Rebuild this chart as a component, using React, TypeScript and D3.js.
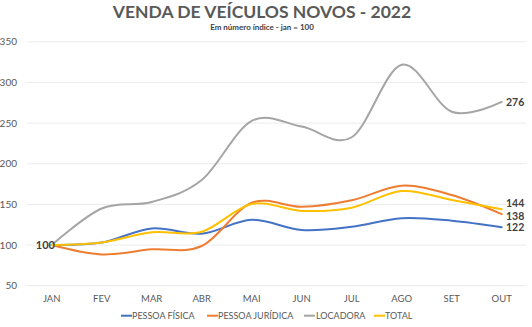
import React from "react";
import * as d3 from "d3";

const months = ["JAN", "FEV", "MAR", "ABR", "MAI", "JUN", "JUL", "AGO", "SET", "OUT"];
const pessoaFisica = [100, 103, 120.5, 114, 131, 118.5, 122.5, 133, 130, 122];
const pessoaJuridica = [100, 88.5, 94.7, 98.8, 152, 147, 155, 173, 161.5, 138];
const locadora = [100, 145, 153, 180, 252.7, 245.7, 232.6, 321.7, 264, 276];
const total = [100, 103, 115.6, 116.4, 150.5, 142, 146, 166.5, 155.4, 144];
const yTicks = [50, 100, 150, 200, 250, 300, 350];

const seriesList = [
  { name: "PESSOA FÍSICA", values: pessoaFisica, color: "#4472C4" },
  { name: "PESSOA JURÍDICA", values: pessoaJuridica, color: "#ED7D31" },
  { name: "LOCADORA", values: locadora, color: "#A5A5A5" },
  { name: "TOTAL", values: total, color: "#FFC000" },
];
const drawOrder = [2, 0, 1, 3];

export default function App() {
  const W = 532, H = 327;
  const x = d3.scaleBand().domain(months).range([26.7, 526.7]);
  const y = d3.scaleLinear().domain([50, 350]).range([285.7, 41.8]);
  const cx = (m: string) => (x(m) as number) + x.bandwidth() / 2;
  const line = d3
    .line<number>()
    .x((_, i) => cx(months[i]))
    .y((v) => y(v))
    .curve(d3.curveCardinal.tension(0));
  const font = "Lato, 'Open Sans', sans-serif";
  const legendItems = [
    { x: 121, tx: 132 },
    { x: 207, tx: 218 },
    { x: 304, tx: 316 },
    { x: 374, tx: 385 },
  ];
  const last = months.length - 1;
  const endLabelOffsets = [0, 1.8, 0, -5.8];
  return (
    <svg width={W} height={H} style={{ position: "absolute", left: 0, top: 0, background: "#fff" }} fontFamily={font}>
      <rect width={W} height={H} fill="#fff" />
      <text x={262} y={18} textAnchor="middle" fontSize={17.5} fontWeight={700} fill="#595959">
        VENDA DE VEÍCULOS NOVOS - 2022
      </text>
      <text x={262} y={30} textAnchor="middle" fontSize={8} fontWeight={700} fill="#404040">
        Em número índice - jan = 100
      </text>
      {yTicks.map((t) => (
        <g key={t}>
          <line x1={26.7} x2={526.7} y1={y(t)} y2={y(t)} stroke="#EBEBEB" strokeWidth={1} />
          <text x={17} y={y(t)} dy="0.35em" textAnchor="end" fontSize={10} fill="#595959">
            {t}
          </text>
        </g>
      ))}
      {months.map((m) => (
        <text key={m} x={cx(m)} y={302} textAnchor="middle" fontSize={9.5} fill="#595959">
          {m}
        </text>
      ))}
      {drawOrder.map((i) => (
        <path key={i} d={line(seriesList[i].values) || ""} fill="none" stroke={seriesList[i].color} strokeWidth={2} strokeLinecap="round" />
      ))}
      <text x={55} y={y(100)} dy="0.35em" textAnchor="end" fontSize={11} fontWeight={700} fill="#404040">
        100
      </text>
      {seriesList.map((s, i) => (
        <text key={s.name} x={506} y={y(s.values[last]) + endLabelOffsets[i]} dy="0.35em" fontSize={10.5} fontWeight={700} fill="#404040">
          {s.values[last]}
        </text>
      ))}
      {seriesList.map((s, i) => (
        <g key={s.name}>
          <line x1={legendItems[i].x} x2={legendItems[i].x + 11} y1={315.7} y2={315.7} stroke={s.color} strokeWidth={2} />
          <text x={legendItems[i].tx} y={315.7} dy="0.35em" fontSize={9} fill="#595959">
            {s.name}
          </text>
        </g>
      ))}
    </svg>
  );
}
